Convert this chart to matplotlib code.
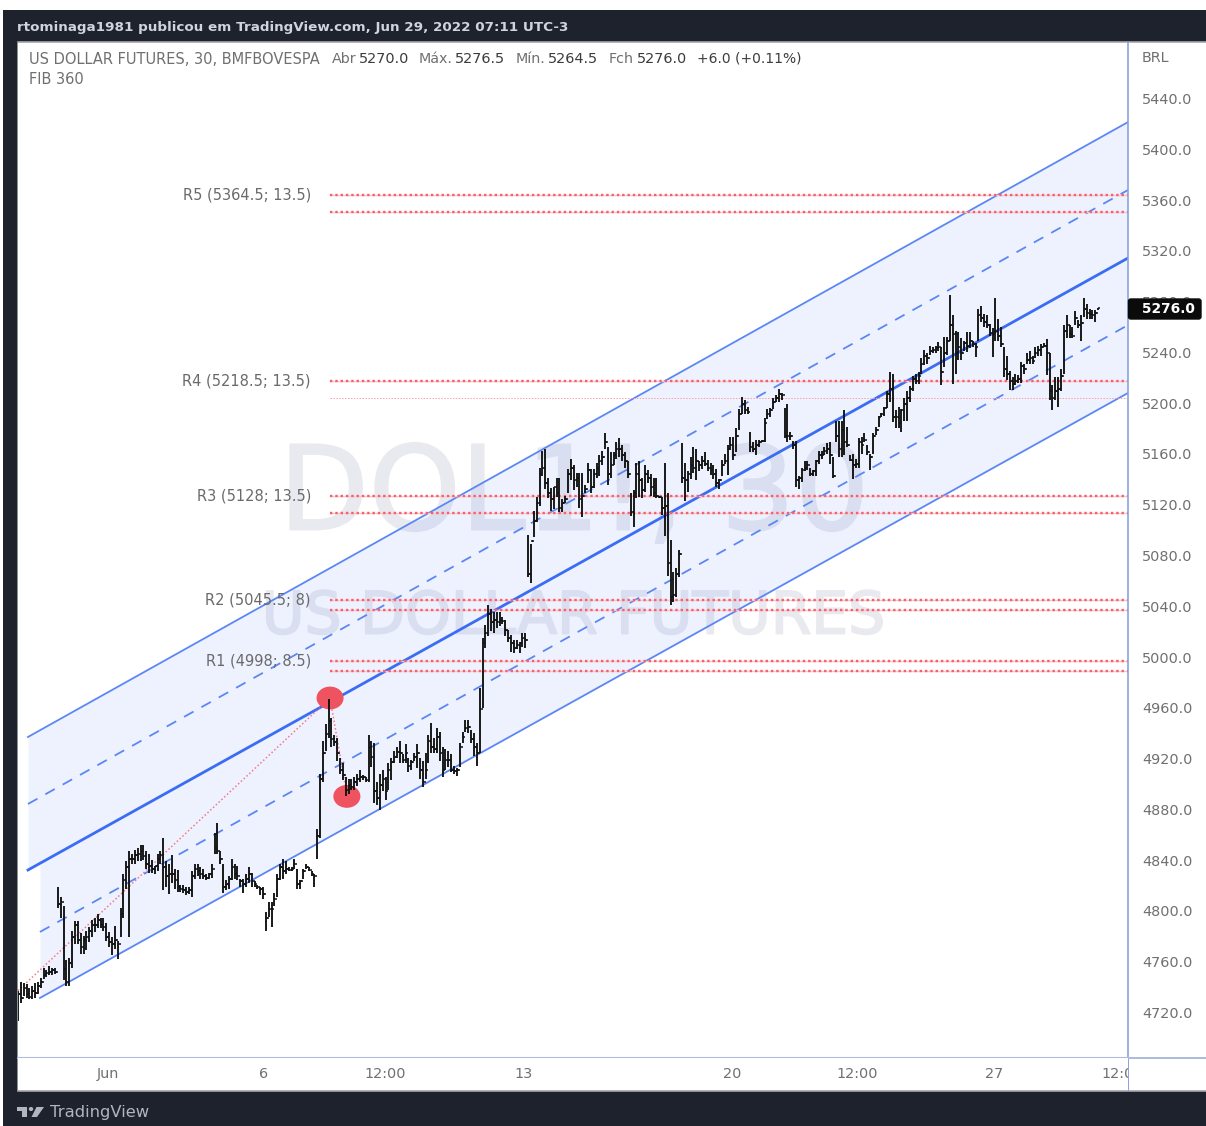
import matplotlib
matplotlib.use("Agg")
import matplotlib.pyplot as plt
import matplotlib.patheffects as pe
from matplotlib.patches import Rectangle, Ellipse, Polygon, Circle, FancyBboxPatch
from matplotlib.transforms import ScaledTranslation

W, H = 1206, 1126

# barras de 30 min
highs = [
    4738,4745,4744,4743,4740,4742,4744,4745,4748,4756,4754,4757,4756,4756,
    4820,4812,4805,4762,4764,4785,4793,4793,4783,4781,4785,4788,4794,4795,4798,4795,4795,4791,4784,4780,4789,4777,4803,4830,4840,4848,
    4846,4849,4850,4853,4853,4848,4846,4841,4836,4846,4848,4858,4840,4838,4845,4834,4833,4821,4821,4820,4820,4832,4838,4838,4835,4834,4830,4831,4838,
    4862,4870,4848,4838,4825,4828,4842,4838,4836,4826,4826,4830,4835,4831,4824,4821,4820,4820,4800,4808,4808,4815,4830,4838,4842,4840,4835,4835,4842,4834,4825,4834,4838,4835,4832,4830,
    4865,4909,4935,4948,4968,4953,4939,4937,4921,4917,4906,4905,4905,4906,4909,4912,4908,4906,4939,4935,4933,4902,4909,4912,4906,4917,4921,4927,4930,4935,4924,4932,4921,4920,4925,4932,4921,4919,4925,
    4939,4949,4937,4945,4942,4930,4928,4927,4924,4915,4913,4933,4942,4951,4951,4943,4941,4933,4976,5016,5026,5042,5039,5036,5036,5036,5032,5030,5022,5018,5014,5014,5013,5020,5020,
    5097,5090,5116,5127,5150,5163,5165,5142,5134,5135,5142,5142,5125,5128,5149,5157,5152,5146,5146,5146,5136,5154,5149,5149,5154,5160,5163,5177,5166,5162,5162,5170,5173,5168,5162,5155,5130,5132,5154,5155,5142,5152,5148,5145,5142,5142,5128,5127,5154,5130,5093,5068,5071,5085,
    5169,5154,5147,5158,5166,5165,5155,5159,5162,5156,5154,5152,5149,5141,5156,5161,5168,5174,5174,5181,5196,5206,5203,5198,5178,5170,5172,5172,5172,5189,5196,5197,5205,5207,5212,5209,5197,5200,5178,5171,5171,5143,5150,5155,5155,5150,5148,5156,5163,5163,5166,5169,5170,5158,
    5187,5187,5187,5195,5182,5160,5161,5157,5173,5174,5177,5168,5161,5177,5182,5191,5193,5198,5210,5225,5224,5195,5198,5196,5205,5210,5214,5222,5224,5225,5236,5243,5240,5246,5245,5246,5249,5245,5253,5253,
    5286,5270,5258,5257,5252,5250,5257,5257,5250,5248,5275,5277,5271,5270,5263,5260,5284,5267,5261,5245,5238,5226,5221,5224,5223,5233,5232,5240,5242,5238,5245,5246,5247,5248,5251,5240,5215,5221,5221,5228,5262,5270,5262,5261,5273,5266,5270,5284,5279,5275,5274,5274,5276,
]
lows = [
    4714,4728,4734,4732,4731,4731,4732,4735,4740,4747,4749,4750,4750,4751,
    4803,4795,4746,4742,4742,4756,4775,4775,4767,4767,4770,4776,4780,4784,4787,4787,4785,4777,4772,4766,4771,4763,4780,4795,4818,4780,
    4838,4838,4840,4840,4841,4834,4831,4831,4830,4832,4838,4817,4820,4814,4823,4818,4816,4816,4815,4813,4814,4812,4826,4828,4826,4826,4825,4826,4827,
    4846,4846,4838,4815,4817,4818,4825,4826,4825,4820,4815,4820,4823,4820,4820,4818,4813,4810,4785,4796,4788,4805,4812,4825,4826,4830,4832,4832,4834,4818,4818,4826,4834,4832,4828,4820,
    4842,4858,4902,4927,4937,4930,4931,4919,4909,4904,4891,4893,4896,4896,4899,4902,4904,4902,4902,4914,4886,4884,4880,4895,4888,4896,4904,4917,4921,4917,4917,4917,4910,4912,4919,4913,4905,4898,4905,
    4917,4925,4925,4925,4919,4906,4912,4914,4910,4909,4907,4914,4933,4942,4941,4933,4923,4915,4925,4961,5008,5017,5021,5020,5024,5025,5027,5017,5013,5005,5004,5007,5004,5009,5008,
    5064,5059,5095,5107,5120,5143,5133,5126,5116,5117,5127,5115,5115,5122,5130,5140,5132,5135,5118,5111,5130,5138,5130,5134,5142,5143,5152,5165,5136,5142,5152,5157,5158,5155,5150,5142,5112,5103,5126,5127,5126,5131,5138,5128,5127,5126,5126,5113,5096,5065,5042,5044,5048,5064,
    5138,5124,5131,5141,5146,5140,5147,5149,5151,5147,5144,5141,5135,5133,5143,5153,5144,5164,5156,5162,5180,5192,5192,5192,5162,5162,5160,5166,5170,5170,5188,5190,5196,5202,5202,5203,5173,5170,5172,5165,5135,5133,5139,5147,5148,5143,5143,5143,5153,5157,5160,5161,5153,5142,
    5170,5158,5158,5160,5166,5155,5141,5150,5150,5161,5170,5160,5148,5161,5176,5182,5190,5191,5197,5202,5186,5181,5181,5178,5187,5187,5202,5210,5216,5216,5224,5231,5232,5239,5240,5240,5242,5215,5229,5239,
    5250,5216,5224,5235,5235,5242,5241,5244,5245,5237,5250,5265,5261,5260,5254,5237,5250,5250,5245,5221,5219,5211,5211,5215,5217,5217,5224,5232,5232,5232,5236,5238,5238,5245,5223,5203,5195,5203,5198,5210,5224,5252,5252,5252,5262,5260,5250,5269,5267,5267,5267,5265,5274,
]
closes = [
    4735,4732,4740,4735,4733,4738,4736,4742,4745,4750,4752,4753,4754,4753,
    4806,4808,4755,4745,4760,4780,4790,4778,4772,4778,4780,4785,4790,4790,4794,4790,4788,4780,4776,4775,4778,4775,4798,4825,4835,4842,
    4842,4845,4846,4848,4844,4838,4836,4834,4836,4842,4845,4835,4828,4830,4830,4825,4820,4818,4817,4816,4817,4828,4834,4832,4830,4828,4827,4830,4834,
    4850,4848,4842,4820,4822,4826,4835,4830,4828,4824,4822,4826,4830,4824,4822,4820,4818,4814,4795,4802,4802,4810,4826,4835,4832,4834,4833,4834,4838,4822,4824,4832,4835,4833,4830,4828,
    4860,4905,4925,4940,4950,4936,4934,4925,4912,4908,4896,4900,4898,4902,4905,4906,4906,4904,4930,4922,4895,4890,4900,4905,4895,4912,4918,4922,4926,4925,4920,4925,4915,4918,4922,4925,4912,4902,4912,
    4935,4930,4928,4938,4925,4912,4920,4920,4912,4911,4912,4930,4938,4945,4946,4936,4930,4925,4960,5012,5020,5035,5028,5030,5028,5030,5029,5022,5016,5012,5008,5010,5012,5016,5014,
    5066,5092,5108,5122,5145,5150,5138,5130,5125,5135,5130,5118,5122,5125,5145,5150,5140,5142,5125,5128,5133,5148,5135,5145,5150,5155,5158,5170,5145,5152,5160,5165,5165,5160,5155,5145,5115,5130,5145,5140,5132,5145,5142,5135,5130,5128,5127,5118,5120,5075,5048,5050,5066,5082,
    5142,5140,5145,5152,5150,5155,5152,5155,5153,5150,5148,5145,5138,5140,5152,5155,5165,5168,5160,5175,5192,5200,5195,5194,5166,5165,5168,5170,5171,5185,5192,5195,5202,5205,5208,5207,5175,5175,5175,5168,5140,5142,5148,5150,5152,5145,5147,5155,5160,5160,5163,5165,5160,5143,
    5175,5165,5180,5170,5168,5156,5152,5153,5170,5168,5172,5162,5158,5175,5180,5190,5192,5197,5208,5212,5190,5190,5185,5195,5200,5205,5212,5220,5218,5222,5232,5238,5236,5242,5243,5244,5245,5225,5240,5250,
    5262,5255,5240,5245,5240,5248,5246,5250,5247,5245,5270,5268,5265,5262,5256,5255,5258,5254,5247,5228,5224,5218,5216,5218,5220,5230,5228,5235,5236,5234,5240,5243,5245,5246,5240,5210,5205,5210,5212,5222,5258,5262,5255,5254,5268,5262,5264,5275,5272,5271,5270,5272,5276,
]

price_ticks = [4720,4760,4800,4840,4880,4920,4960,5000,5040,5080,5120,5160,5200,5240,5280,5320,5360,5400,5440]
time_pos = [31.6, 86.3, 129, 177.5, 250.5, 294.4, 342.5, 387.5]
time_labels = ["Jun", "6", "12:00", "13", "20", "12:00", "27", "12:00"]

# canal: (x0, preco0, x1, preco1)
chan_x0 = 3.5
chan_x0b = 7.7
chan_x1 = 389.5
upper = [4937.8, 5422.2]
center = [4833.0, 5315.1]
dash_up = [4885.0, 5368.7]
dash_low = [4784.2, 5262.3]
lower = [4732.2, 5208.8]

fib_names = ["R5 (5364.5; 13.5)", "R4 (5218.5; 13.5)", "R3 (5128; 13.5)", "R2 (5045.5; 8)", "R1 (4998; 8.5)"]
fib_top = [5364.5, 5218.5, 5128, 5045.5, 4998]
fib_width = [13.5, 13.5, 13.5, 8, 8.5]

# pivos da linha pontilhada
piv_x = [0, 109.5, 115.4]
piv_y = [4738, 4968.5, 4892]

fig = plt.figure(figsize=(W / 100, H / 100), dpi=100, facecolor="white")
plt.rcParams["font.family"] = "DejaVu Sans"

def fx(px):
    return px / W

def fy(py):
    return 1 - py / H

def rect(x0, y0, x1, y1, **kw):
    fig.add_artist(Rectangle((fx(x0), fy(y1)), (x1 - x0) / W, (y1 - y0) / H, transform=fig.transFigure, **kw))

def fib_line(y):
    ax.plot([fib_x0, chan_x1], [y, y], color="#fbc6ca", lw=1.0, zorder=2.4)
    ax.plot([fib_x0, chan_x1], [y, y], color="#f4606d", lw=1.7, ls=(0, (1, 1.25)), zorder=2.5)

# moldura escura
rect(3, 10, W + 5, H + 5, facecolor="#1e222d", edgecolor="none", zorder=-3)
rect(17.5, 42, W + 5, 1091, facecolor="white", edgecolor="#a4a7ae", linewidth=1.2, zorder=-2)

ax = fig.add_axes([fx(18), fy(1058), 1110 / W, 1015 / H], facecolor="white", zorder=1)
ax.set_xlim(0, chan_x1)
ax.set_ylim(4684.9, 5484.5)
for s in ax.spines.values():
    s.set_visible(False)
ax.spines["right"].set_visible(True)
ax.spines["right"].set_color("#8ea3dc")
ax.spines["right"].set_linewidth(1.2)
ax.spines["bottom"].set_visible(True)
ax.spines["bottom"].set_color("#aebbdf")
ax.spines["bottom"].set_linewidth(1.5)
ax.set_xticks([])
ax.yaxis.tick_right()
ax.set_yticks(price_ticks)
ax.set_yticklabels([f"{p:.1f}" for p in price_ticks], color="#707070", fontsize=10.4)
ax.tick_params(axis="y", length=0, pad=10)
up_1px = ScaledTranslation(0, 1 / 100, fig.dpi_scale_trans)
for lbl in ax.get_yticklabels():
    lbl.set_transform(lbl.get_transform() + up_1px)

# marcas d'agua
wm_fx = [pe.withStroke(linewidth=1.4, foreground="#e9eaef")]
ax.text((574 - 18) / 1110, (1058 - 497) / 1015, "DOL1!, 30", transform=ax.transAxes, fontsize=84,
        color="#e9eaef", ha="center", va="center", zorder=0, path_effects=wm_fx)
ax.text((574 - 18) / 1110, (1058 - 617) / 1015, "US DOLLAR FUTURES", transform=ax.transAxes, fontsize=42,
        color="#e9eaef", ha="center", va="center", zorder=0, path_effects=wm_fx)

# canal
ax.fill_between([chan_x0, chan_x1], upper, center, color="#2962ff", alpha=0.08, linewidth=0, zorder=1)
frac = (chan_x0b - chan_x0) / (chan_x1 - chan_x0)
ax.fill_between([chan_x0b, chan_x1], [center[0] + (center[1] - center[0]) * frac, center[1]], lower,
                color="#2962ff", alpha=0.08, linewidth=0, zorder=1)
ax.plot([chan_x0, chan_x1], upper, color="#5b87f5", lw=1.3, zorder=2)
ax.plot([chan_x0, chan_x1], center, color="#3a6cf4", lw=2.0, zorder=2)
ax.plot([chan_x0, chan_x1], dash_up, color="#5b87f5", lw=1.3, ls=(0, (6, 5)), zorder=2)
ax.plot([chan_x0b, chan_x1], dash_low, color="#5b87f5", lw=1.3, ls=(0, (6, 5)), zorder=2)
ax.plot([chan_x0b, chan_x1], lower, color="#5b87f5", lw=1.3, zorder=2)

# niveis de fib
fib_x0 = 109.5
for name, top, wid in zip(fib_names, fib_top, fib_width):
    fib_line(top)
    if name.startswith("R4"):
        ax.plot([fib_x0, chan_x1], [top - wid, top - wid], color="#f7a1a8", lw=0.7, ls=(0, (1.5, 1.5)), zorder=2.5)
    else:
        fib_line(top - wid)
    ax.text(102.8, top, name, color="#6a6a6a", fontsize=10.5, ha="right", va="center", zorder=3)

# pivos
ax.plot(piv_x, piv_y, color="#f45b69", lw=1.1, ls=(0, (1, 1.5)), alpha=0.8, zorder=2.5)
ax.add_patch(Ellipse((piv_x[1], piv_y[1]), 9.5, 18, facecolor="#ef5360", edgecolor="none", zorder=3))
ax.add_patch(Ellipse((piv_x[2], 4891), 9.5, 18, facecolor="#ef5360", edgecolor="none", zorder=3))

# barras OHLC
xs = list(range(len(highs)))
opens = [closes[0]] + closes[:-1]
ax.vlines(xs, lows, highs, color="#111111", lw=1.35, zorder=4)
ax.hlines(opens, [x - 0.6 for x in xs], xs, color="#111111", lw=1.1, zorder=4)
ax.hlines(closes, xs, [x + 0.6 for x in xs], color="#111111", lw=1.1, zorder=4)

# escala de tempo
ax2 = fig.add_axes([fx(18), fy(1090), 1110 / W, 32 / H], facecolor="white", zorder=1)
ax2.set_xlim(0, chan_x1)
ax2.set_ylim(0, 1)
ax2.set_xticks([])
ax2.set_yticks([])
for s in ax2.spines.values():
    s.set_visible(False)
for pos, lab in zip(time_pos, time_labels):
    ax2.text(pos, 0.5, lab, color="#707070", fontsize=10.4, ha="center", va="center", clip_on=True)
rect(1127.5, 1058, 1128.7, 1091, facecolor="#8ea3dc", edgecolor="none", zorder=3)
rect(1128, 1057.3, W + 5, 1058.8, facecolor="#aebbdf", edgecolor="none", zorder=3)

# textos de cima
fig.text(fx(17), fy(27), "rtominaga1981 publicou em TradingView.com, Jun 29, 2022 07:11 UTC-3",
         color="#d1d4dc", fontsize=9.7, fontweight="semibold", va="center", zorder=5)
gray = "#707070"
dark = "#3c3c3c"
legend_parts = [(29, "US DOLLAR FUTURES, 30, BMFBOVESPA", gray, 10.5), (332, "Abr", gray, 10.3),
                (359, "5270.0", dark, 10.4), (419, "Máx.", gray, 10.3), (455, "5276.5", dark, 10.4),
                (516, "Mín.", gray, 10.3), (548, "5264.5", dark, 10.4), (609, "Fch", gray, 10.3),
                (637, "5276.0", dark, 10.4), (697, "+6.0 (+0.11%)", dark, 10)]
for px, txt, col, size in legend_parts:
    fig.text(fx(px), fy(59), txt, color=col, fontsize=size, va="center", zorder=5)
fig.text(fx(29), fy(79), "FIB 360", color=gray, fontsize=10.5, va="center", zorder=5)
fig.text(fx(1142), fy(58), "BRL", color=gray, fontsize=10.4, va="center", zorder=5)

# etiqueta do ultimo preco
fig.add_artist(FancyBboxPatch((fx(1128.5), fy(319)), 72.5 / W, 20 / H, boxstyle="round,pad=0,rounding_size=0.002",
                              transform=fig.transFigure, facecolor="#0b0b0b", edgecolor="#0b0b0b", zorder=5))
fig.text(fx(1142), fy(309), "5276.0", color="white", fontsize=9.9, fontweight="bold", va="center", zorder=6)

# logo e rodape
logo = "#b2b5be"
rect(17, 1107, 27, 1111, facecolor=logo, edgecolor="none", zorder=5)
rect(22, 1107, 27, 1117, facecolor=logo, edgecolor="none", zorder=5)
fig.add_artist(Circle((fx(31), fy(1109)), 2.2 / W, transform=fig.transFigure, facecolor=logo, edgecolor="none", zorder=5))
fig.add_artist(Polygon([(fx(36.5), fy(1107)), (fx(44), fy(1107)), (fx(37), fy(1117)), (fx(31.5), fy(1117))],
                       transform=fig.transFigure, facecolor=logo, edgecolor="none", zorder=5))
fig.text(fx(50), fy(1112), "TradingView", color=logo, fontsize=11.8, fontweight="medium", va="center", zorder=5)

fig.savefig("out.png", dpi=100)
